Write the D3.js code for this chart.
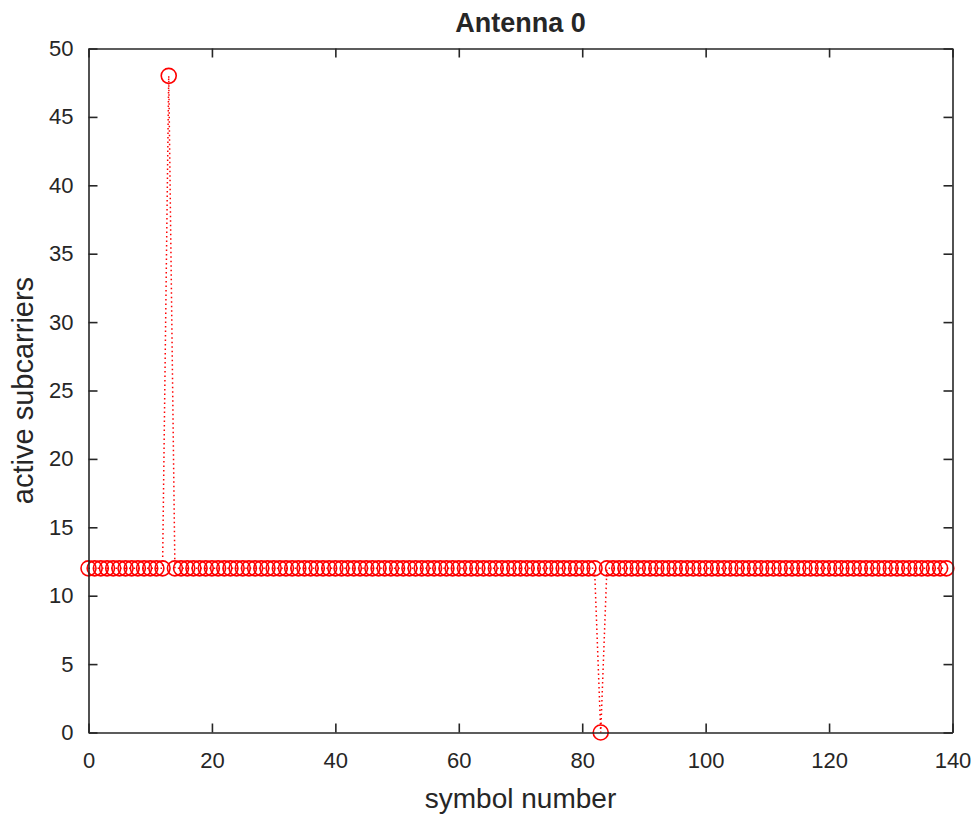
<!DOCTYPE html>
<html>
<head>
<meta charset="utf-8">
<script src="https://cdn.jsdelivr.net/npm/d3@7"></script>
<style>
  html, body { margin: 0; padding: 0; background: #ffffff; }
  svg { display: block; }
  text { font-family: "Liberation Sans", Arial, Helvetica, sans-serif; fill: #262626; }
</style>
</head>
<body>
<svg id="chart" width="978" height="815"></svg>
<script>
// ---- data ----
const titleText = "Antenna 0";
const xLabel = "symbol number";
const yLabel = "active subcarriers";
const xTicks = [0, 20, 40, 60, 80, 100, 120, 140];
const yTicks = [0, 5, 10, 15, 20, 25, 30, 35, 40, 45, 50];
const xDomain = [0, 140];
const yDomain = [0, 50];
// active subcarriers per symbol (symbol number = index 0..139)
const activeSubcarriers = [
  12,12,12,12,12,12,12,12,12,12,12,12,12,48,12,12,12,12,12,12,
  12,12,12,12,12,12,12,12,12,12,12,12,12,12,12,12,12,12,12,12,
  12,12,12,12,12,12,12,12,12,12,12,12,12,12,12,12,12,12,12,12,
  12,12,12,12,12,12,12,12,12,12,12,12,12,12,12,12,12,12,12,12,
  12,12,12, 0,12,12,12,12,12,12,12,12,12,12,12,12,12,12,12,12,
  12,12,12,12,12,12,12,12,12,12,12,12,12,12,12,12,12,12,12,12,
  12,12,12,12,12,12,12,12,12,12,12,12,12,12,12,12,12,12,12,12
];

// ---- layout ----
const svg = d3.select("#chart");
const L = 88.5, R = 952.5, T = 48.5, B = 732.5;
const x = d3.scaleLinear().domain(xDomain).range([L, R]);
const y = d3.scaleLinear().domain(yDomain).range([B, T]);
const axisColor = "#262626";
const tickLen = 9;

// data series
const pts = activeSubcarriers.map((v, i) => ({ x: i, y: v }));
const line = d3.line().x(d => x(d.x)).y(d => y(d.y));
svg.append("path")
  .datum(pts)
  .attr("d", line)
  .attr("fill", "none")
  .attr("stroke", "#ff0000")
  .attr("stroke-width", 1.5)
  .attr("stroke-dasharray", "1.5 3");
svg.append("g").selectAll("circle")
  .data(pts)
  .enter().append("circle")
  .attr("cx", d => x(d.x))
  .attr("cy", d => y(d.y))
  .attr("r", 7.5)
  .attr("fill", "none")
  .attr("stroke", "#ff0000")
  .attr("stroke-width", 1.6);

// axes (MATLAB style: inward ticks, box)
const gx = svg.append("g").attr("transform", `translate(0,${B})`)
  .call(d3.axisBottom(x).tickValues(xTicks).tickSizeInner(-tickLen).tickSizeOuter(0).tickPadding(20));
const gxt = svg.append("g").attr("transform", `translate(0,${T})`)
  .call(d3.axisTop(x).tickValues(xTicks).tickSizeInner(-tickLen).tickSizeOuter(0).tickFormat(""));
const gy = svg.append("g").attr("transform", `translate(${L},0)`)
  .call(d3.axisLeft(y).tickValues(yTicks).tickSizeInner(-tickLen).tickSizeOuter(0).tickPadding(15));
const gyr = svg.append("g").attr("transform", `translate(${R},0)`)
  .call(d3.axisRight(y).tickValues(yTicks).tickSizeInner(-tickLen).tickSizeOuter(0).tickFormat(""));

[gx, gxt, gy, gyr].forEach(g => {
  g.selectAll(".domain").attr("stroke", axisColor).attr("stroke-width", 1.6);
  g.selectAll(".tick line").attr("stroke", axisColor).attr("stroke-width", 1.6);
  g.selectAll(".tick text").style("font-family", '"Liberation Sans", Arial, sans-serif')
    .style("font-size", "22px").attr("fill", axisColor);
});
gx.selectAll(".tick text").attr("dy", "0.71em");

// title and labels
svg.append("text")
  .attr("x", (L + R) / 2).attr("y", 32)
  .attr("text-anchor", "middle")
  .style("font-size", "27px").style("font-weight", "bold")
  .attr("fill", "#000")
  .text(titleText);
svg.append("text")
  .attr("x", (L + R) / 2).attr("y", 808)
  .attr("text-anchor", "middle")
  .style("font-size", "28px")
  .text(xLabel);
svg.append("text")
  .attr("transform", `translate(33,${(T + B) / 2}) rotate(-90)`)
  .attr("text-anchor", "middle")
  .style("font-size", "29px")
  .text(yLabel);
</script>
</body>
</html>
